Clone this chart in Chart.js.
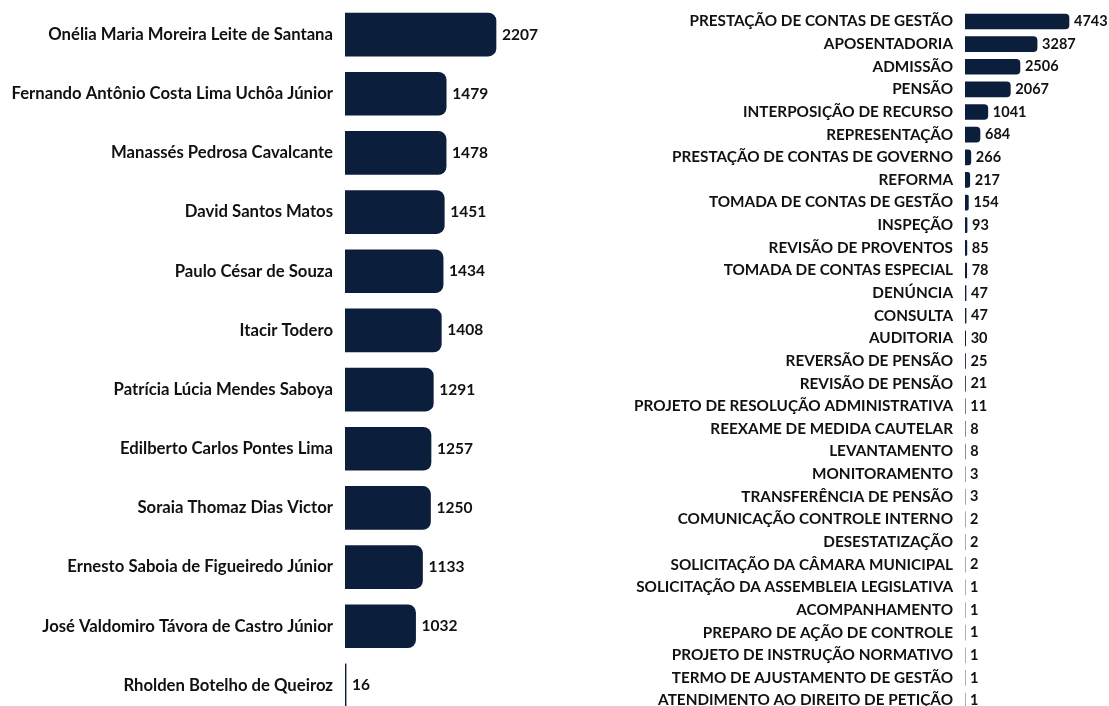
<!DOCTYPE html>
<html><head><meta charset="utf-8">
<script src="https://cdn.jsdelivr.net/npm/chart.js@4/dist/chart.umd.min.js"></script>
<style>
html,body{margin:0;padding:0;background:#fff;overflow:hidden;width:1109px;height:706px}
#l{position:absolute;left:0;top:-17px;width:560px;height:754px}
#r{position:absolute;left:560px;top:-11px;width:549px;height:744px}
</style></head><body>
<div id="l"><canvas id="c1"></canvas></div>
<div id="r"><canvas id="c2"></canvas></div>
<script>
const relatores = ["Onélia Maria Moreira Leite de Santana","Fernando Antônio Costa Lima Uchôa Júnior","Manassés Pedrosa Cavalcante","David Santos Matos","Paulo César de Souza","Itacir Todero","Patrícia Lúcia Mendes Saboya","Edilberto Carlos Pontes Lima","Soraia Thomaz Dias Victor","Ernesto Saboia de Figueiredo Júnior","José Valdomiro Távora de Castro Júnior","Rholden Botelho de Queiroz"];
const relatoresValores = [2207,1479,1478,1451,1434,1408,1291,1257,1250,1133,1032,16];
const tipos = ["PRESTAÇÃO DE CONTAS DE GESTÃO","APOSENTADORIA","ADMISSÃO","PENSÃO","INTERPOSIÇÃO DE RECURSO","REPRESENTAÇÃO","PRESTAÇÃO DE CONTAS DE GOVERNO","REFORMA","TOMADA DE CONTAS DE GESTÃO","INSPEÇÃO","REVISÃO DE PROVENTOS","TOMADA DE CONTAS ESPECIAL","DENÚNCIA","CONSULTA","AUDITORIA","REVERSÃO DE PENSÃO","REVISÃO DE PENSÃO","PROJETO DE RESOLUÇÃO ADMINISTRATIVA","REEXAME DE MEDIDA CAUTELAR","LEVANTAMENTO","MONITORAMENTO","TRANSFERÊNCIA DE PENSÃO","COMUNICAÇÃO CONTROLE INTERNO","DESESTATIZAÇÃO","SOLICITAÇÃO DA CÂMARA MUNICIPAL","SOLICITAÇÃO DA ASSEMBLEIA LEGISLATIVA","ACOMPANHAMENTO","PREPARO DE AÇÃO DE CONTROLE","PROJETO DE INSTRUÇÃO NORMATIVO","TERMO DE AJUSTAMENTO DE GESTÃO","ATENDIMENTO AO DIREITO DE PETIÇÃO"];
const tiposValores = [4743,3287,2506,2067,1041,684,266,217,154,93,85,78,47,47,30,25,21,11,8,8,3,3,2,2,2,1,1,1,1,1,1];

const NAVY = '#0b1f3d';
const FONT = 'Lato';
const WEIGHT = 'bold';

const valueLabels = {
  id:'valueLabels',
  afterDatasetsDraw(chart, args, opts){
    const ctx = chart.ctx;
    const ds = chart.data.datasets[0];
    const meta = chart.getDatasetMeta(0);
    ctx.save();
    ctx.font = `${WEIGHT} ${opts.size}px ${FONT}`;
    ctx.fillStyle = '#111';
    ctx.textAlign = 'left';
    ctx.textBaseline = 'middle';
    meta.data.forEach((bar,i)=>{
      ctx.fillText(String(ds.data[i]), bar.x + opts.gap, bar.y);
    });
    ctx.restore();
  }
};

function makeChart(id, labels, values, yWidth, xMax, thick, radius, fontSize, labelSize, gap){
  return new Chart(document.getElementById(id), {
    type:'bar',
    data:{labels, datasets:[{data:values, backgroundColor:NAVY, borderRadius:radius, borderSkipped:'start', barThickness:thick}]},
    options:{
      indexAxis:'y', responsive:true, maintainAspectRatio:false, animation:false,
      layout:{padding:0},
      plugins:{legend:{display:false}, tooltip:{enabled:false}, valueLabels:{size:labelSize, gap:gap}},
      scales:{
        x:{display:false, min:0, max:xMax},
        y:{
          grid:{display:false, drawTicks:false}, border:{display:false},
          ticks:{color:'#111', padding:12, font:{family:FONT, weight:WEIGHT, size:fontSize}, autoSkip:false},
          afterFit(s){ s.width = yWidth; }
        }
      }
    },
    plugins:[valueLabels]
  });
}
makeChart('c1', relatores, relatoresValores, 345, 2207*215/151, 43, 8, 16.7, 15.5, 6);
makeChart('c2', tipos, tiposValores, 405, 4743*144/104, 15, 4, 15.3, 14.5, 5);
</script>
</body></html>
